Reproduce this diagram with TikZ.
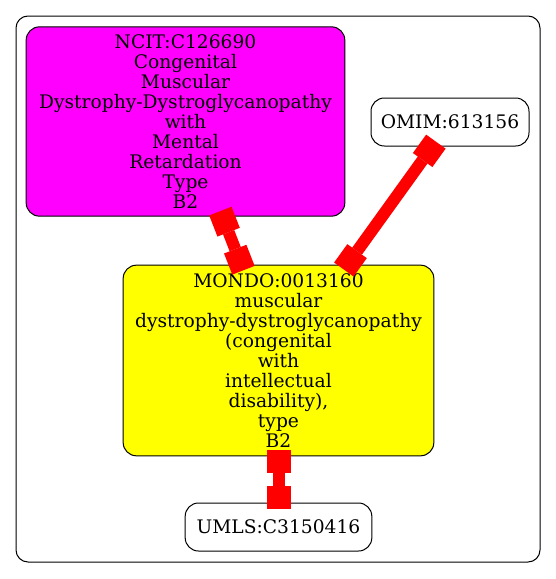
\documentclass[tikz,border=0pt]{standalone}
\usepackage{fontspec}
\setmainfont{DejaVu Serif}
\usetikzlibrary{arrows.meta}
\definecolor{TermMagenta}{RGB}{255,0,255}
\definecolor{TermYellow}{RGB}{255,255,0}
\definecolor{LinkRed}{RGB}{255,0,0}

\begin{document}
\begin{tikzpicture}[x=0.75pt, y=-0.75pt,
    term/.style={draw, rounded corners=10pt, align=center, inner sep=0pt,
                 font=\fontsize{14}{15}\selectfont, line width=0.75pt},
    link/.style={LinkRed, line width=9pt, shorten <=-4.5pt, shorten >=-4.5pt,
                 {Square[length=17pt, width=18pt, line width=0pt]}-{Square[length=17pt, width=18pt, line width=0pt]}}]
  \useasboundingbox (0,0) rectangle (556,579);

  % Cluster frame
  \draw[rounded corners=9pt, line width=0.75pt] (16,16) rectangle (540,562);

  % Terms
  \node[term, fill=TermMagenta, minimum width=239pt, minimum height=142pt] (ncit)
        at (185.5,121.5)
        {NCIT:C126690\\Congenital\\Muscular\\Dystrophy-Dystroglycanopathy\\with\\Mental\\Retardation\\Type\\B2};
  \node[term, minimum width=118.5pt, minimum height=36pt] (omim)
        at (450,122) {OMIM:613156};
  \node[term, fill=TermYellow, minimum width=233pt, minimum height=143pt] (mondo)
        at (278.5,360.5)
        {MONDO:0013160\\muscular\\dystrophy-dystroglycanopathy\\(congenital\\with\\intellectual\\disability),\\type\\B2};
  \node[term, minimum width=140pt, minimum height=36pt] (umls)
        at (278.5,527) {UMLS:C3150416};

  % Links
  \draw[link] (ncit) -- (mondo);
  \draw[link] (omim) -- (mondo);
  \draw[link] (mondo) -- (umls);
\end{tikzpicture}
\end{document}
